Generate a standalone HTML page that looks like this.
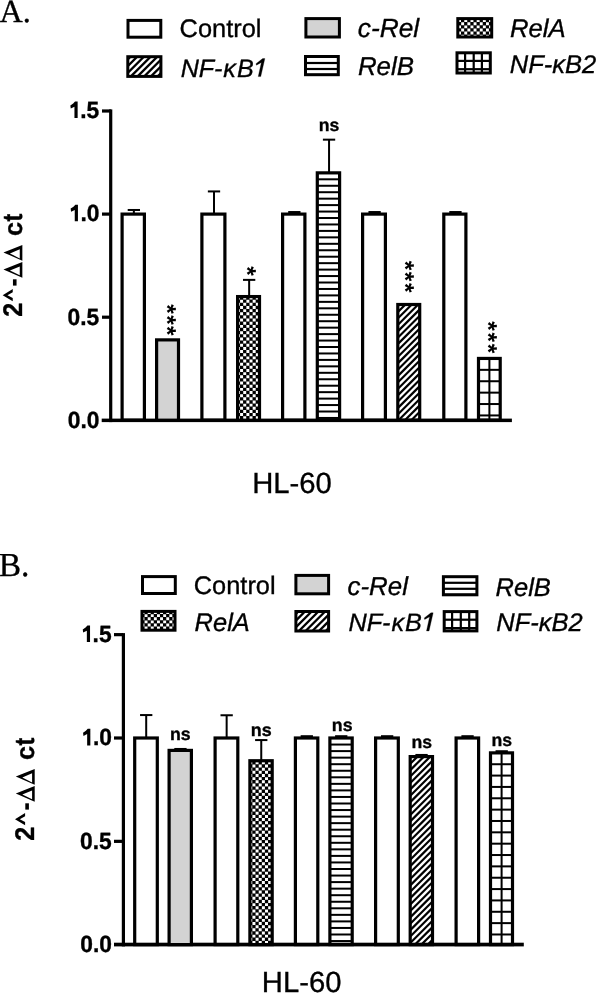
<!DOCTYPE html>
<html><head><meta charset="utf-8"><style>
html,body{margin:0;padding:0;background:#fff;width:596px;height:993px;overflow:hidden}
svg{display:block;font-kerning:normal;text-rendering:geometricPrecision;will-change:transform}
text{stroke:#000;stroke-width:0.35px;paint-order:stroke}
</style></head><body>
<svg width="596" height="993" viewBox="0 0 596 993" shape-rendering="auto">
<text transform="translate(-0.39,21.74)" style="font-family:'Liberation Serif';font-size:32.18px;font-weight:normal;font-style:normal" fill="#000">A.</text>
<rect x="128.00" y="20.40" width="32.80" height="16.80" fill="none" stroke="#000" stroke-width="3.0"/>
<text transform="translate(179.61,36.83)" style="font-family:'Liberation Sans';font-size:25.40px;font-weight:normal;font-style:normal" fill="#000">Control</text>
<clipPath id="c1"><rect x="305.90" y="18.60" width="33.50" height="18.40"/></clipPath>
<g clip-path="url(#c1)">
<rect x="305.90" y="18.60" width="33.50" height="18.40" fill="#d3d3d3"/>
</g>
<rect x="305.90" y="18.60" width="33.50" height="18.40" fill="none" stroke="#000" stroke-width="3.0"/>
<text transform="translate(357.84,37.15)" style="font-family:'Liberation Sans';font-size:26.30px;font-weight:normal;font-style:italic" fill="#000">c-Rel</text>
<clipPath id="c2"><rect x="457.80" y="18.60" width="33.90" height="18.40"/></clipPath>
<g clip-path="url(#c2)">
<rect x="457.80" y="18.60" width="33.90" height="18.40" fill="#000"/>
<path d="M454.98 16.08h2.94v2.94h-2.94zM461.18 16.08h2.94v2.94h-2.94zM467.38 16.08h2.94v2.94h-2.94zM473.58 16.08h2.94v2.94h-2.94zM479.78 16.08h2.94v2.94h-2.94zM485.98 16.08h2.94v2.94h-2.94zM458.08 19.18h2.94v2.94h-2.94zM464.28 19.18h2.94v2.94h-2.94zM470.48 19.18h2.94v2.94h-2.94zM476.68 19.18h2.94v2.94h-2.94zM482.88 19.18h2.94v2.94h-2.94zM489.08 19.18h2.94v2.94h-2.94zM454.98 22.28h2.94v2.94h-2.94zM461.18 22.28h2.94v2.94h-2.94zM467.38 22.28h2.94v2.94h-2.94zM473.58 22.28h2.94v2.94h-2.94zM479.78 22.28h2.94v2.94h-2.94zM485.98 22.28h2.94v2.94h-2.94zM458.08 25.38h2.94v2.94h-2.94zM464.28 25.38h2.94v2.94h-2.94zM470.48 25.38h2.94v2.94h-2.94zM476.68 25.38h2.94v2.94h-2.94zM482.88 25.38h2.94v2.94h-2.94zM489.08 25.38h2.94v2.94h-2.94zM454.98 28.48h2.94v2.94h-2.94zM461.18 28.48h2.94v2.94h-2.94zM467.38 28.48h2.94v2.94h-2.94zM473.58 28.48h2.94v2.94h-2.94zM479.78 28.48h2.94v2.94h-2.94zM485.98 28.48h2.94v2.94h-2.94zM458.08 31.58h2.94v2.94h-2.94zM464.28 31.58h2.94v2.94h-2.94zM470.48 31.58h2.94v2.94h-2.94zM476.68 31.58h2.94v2.94h-2.94zM482.88 31.58h2.94v2.94h-2.94zM489.08 31.58h2.94v2.94h-2.94zM454.98 34.68h2.94v2.94h-2.94zM461.18 34.68h2.94v2.94h-2.94zM467.38 34.68h2.94v2.94h-2.94zM473.58 34.68h2.94v2.94h-2.94zM479.78 34.68h2.94v2.94h-2.94zM485.98 34.68h2.94v2.94h-2.94z" fill="#fff"/>
</g>
<rect x="457.80" y="18.60" width="33.90" height="18.40" fill="none" stroke="#000" stroke-width="3.0"/>
<text transform="translate(509.91,36.93)" style="font-family:'Liberation Sans';font-size:25.68px;font-weight:normal;font-style:italic" fill="#000">RelA</text>
<clipPath id="c3"><rect x="127.80" y="56.70" width="33.10" height="19.70"/></clipPath>
<g clip-path="url(#c3)">
<line x1="104.10" y1="76.40" x2="123.80" y2="56.70" stroke="#000" stroke-width="2.3"/>
<line x1="110.80" y1="76.40" x2="130.50" y2="56.70" stroke="#000" stroke-width="2.3"/>
<line x1="117.50" y1="76.40" x2="137.20" y2="56.70" stroke="#000" stroke-width="2.3"/>
<line x1="124.20" y1="76.40" x2="143.90" y2="56.70" stroke="#000" stroke-width="2.3"/>
<line x1="130.90" y1="76.40" x2="150.60" y2="56.70" stroke="#000" stroke-width="2.3"/>
<line x1="137.60" y1="76.40" x2="157.30" y2="56.70" stroke="#000" stroke-width="2.3"/>
<line x1="144.30" y1="76.40" x2="164.00" y2="56.70" stroke="#000" stroke-width="2.3"/>
<line x1="151.00" y1="76.40" x2="170.70" y2="56.70" stroke="#000" stroke-width="2.3"/>
<line x1="157.70" y1="76.40" x2="177.40" y2="56.70" stroke="#000" stroke-width="2.3"/>
<line x1="164.40" y1="76.40" x2="184.10" y2="56.70" stroke="#000" stroke-width="2.3"/>
</g>
<rect x="127.80" y="56.70" width="33.10" height="19.70" fill="none" stroke="#000" stroke-width="3.0"/>
<path fill="#000" stroke="#000" stroke-width="0.3" d="M262.68 58.61L264.86 58.61L260.75 76.59L258.24 76.59L261.35 62.40L256.43 65.16L256.03 63.66Z"/>
<text transform="translate(180.63,76.59)" style="font-family:'Liberation Sans';font-size:25.11px;font-weight:normal;font-style:italic" fill="#000">NF-<tspan dx="0.9" style="font-family:'Liberation Sans';font-size:1.0em">κ</tspan><tspan dx="1.0">B</tspan></text>
<clipPath id="c4"><rect x="305.50" y="56.50" width="32.80" height="18.20"/></clipPath>
<g clip-path="url(#c4)">
<rect x="305.50" y="61.90" width="32.80" height="2.20" fill="#000"/>
<rect x="305.50" y="67.90" width="32.80" height="2.20" fill="#000"/>
<rect x="305.50" y="73.90" width="32.80" height="2.20" fill="#000"/>
</g>
<rect x="305.50" y="56.50" width="32.80" height="18.20" fill="none" stroke="#000" stroke-width="3.0"/>
<text transform="translate(357.90,74.80)" style="font-family:'Liberation Sans';font-size:25.87px;font-weight:normal;font-style:italic" fill="#000">RelB</text>
<clipPath id="c5"><rect x="457.00" y="52.80" width="33.30" height="20.20"/></clipPath>
<g clip-path="url(#c5)">
<rect x="457.00" y="59.80" width="33.30" height="2.20" fill="#000"/>
<rect x="457.00" y="68.10" width="33.30" height="2.20" fill="#000"/>
<rect x="457.00" y="76.40" width="33.30" height="2.20" fill="#000"/>
<rect x="464.00" y="52.80" width="2.20" height="20.20" fill="#000"/>
<rect x="472.60" y="52.80" width="2.20" height="20.20" fill="#000"/>
<rect x="480.80" y="52.80" width="2.20" height="20.20" fill="#000"/>
</g>
<rect x="457.00" y="52.80" width="33.30" height="20.20" fill="none" stroke="#000" stroke-width="3.0"/>
<text transform="translate(509.72,72.85)" style="font-family:'Liberation Sans';font-size:25.50px;font-weight:normal;font-style:italic" fill="#000">NF-κB2</text>
<rect x="109.10" y="109.40" width="3.20" height="312.70" fill="#000"/>
<rect x="101.70" y="418.60" width="410.20" height="3.50" fill="#000"/>
<rect x="102.00" y="109.40" width="9.00" height="3.20" fill="#000"/>
<rect x="102.00" y="212.50" width="9.00" height="3.20" fill="#000"/>
<rect x="102.00" y="315.60" width="9.00" height="3.20" fill="#000"/>
<text transform="translate(80.22,118.07) scale(0.97,1)" style="font-family:'Liberation Sans';font-size:23.5px;font-weight:bold">.5</text>
<path fill="#000" d="M77.64 101.48L77.64 118.07L74.45 118.07L74.45 106.67L70.76 108.58L70.35 105.38L73.18 103.48L75.02 101.48Z"/>
<text transform="translate(80.52,221.29) scale(0.97,1)" style="font-family:'Liberation Sans';font-size:23.5px;font-weight:bold">.0</text>
<path fill="#000" d="M77.94 204.70L77.94 221.29L74.75 221.29L74.75 209.89L71.06 211.80L70.65 208.60L73.48 206.70L75.32 204.70Z"/>
<text transform="translate(67.55,324.59) scale(0.97,1)" style="font-family:'Liberation Sans';font-size:23.5px;font-weight:bold">0.5</text>
<text transform="translate(67.85,427.69) scale(0.97,1)" style="font-family:'Liberation Sans';font-size:23.5px;font-weight:bold">0.0</text>
<text transform="translate(21.55,316.67) rotate(-90) scale(0.929,1)" style="font-family:'Liberation Sans';font-size:27.07px;font-weight:bold;font-style:normal" fill="#000">2</text>
<path fill="#000" d="M2.65 295.15L12.75 289.10L12.75 292.30L7.45 295.15L12.75 298.00L12.75 301.20Z"/>
<rect x="12.95" y="279.30" width="3.60" height="6.30" fill="#000"/>
<path fill-rule="evenodd" fill="#000" d="M3.45 252.40L22.35 245.00L22.35 260.70Z M9.95 253.40L19.75 249.30L19.75 258.40Z"/>
<path fill-rule="evenodd" fill="#000" d="M3.45 269.50L22.35 262.10L22.35 277.80Z M9.95 270.50L19.75 266.40L19.75 275.30Z"/>
<text transform="translate(21.60,235.88) rotate(-90) scale(0.980,1)" style="font-family:'Liberation Sans';font-size:25.74px;font-weight:bold;font-style:normal" fill="#000">c</text>
<text transform="translate(21.61,221.58) rotate(-90) scale(0.843,1)" style="font-family:'Liberation Sans';font-size:27.68px;font-weight:bold;font-style:normal" fill="#000">t</text>
<text transform="translate(252.20,492.92)" style="font-family:'Liberation Sans';font-size:29.24px;font-weight:normal;font-style:normal" fill="#000">HL-60</text>
<rect x="132.85" y="209.98" width="2.00" height="4.12" fill="#000"/>
<rect x="127.70" y="208.98" width="12.30" height="2.00" fill="#000"/>
<rect x="122.10" y="214.10" width="22.30" height="206.10" fill="none" stroke="#000" stroke-width="3.2"/>
<clipPath id="c6"><rect x="156.60" y="339.88" width="21.90" height="80.32"/></clipPath>
<g clip-path="url(#c6)">
<rect x="156.60" y="339.88" width="21.90" height="80.32" fill="#d3d3d3"/>
</g>
<rect x="156.60" y="339.88" width="21.90" height="80.32" fill="none" stroke="#000" stroke-width="3.2"/>
<rect x="213.00" y="191.42" width="2.00" height="22.68" fill="#000"/>
<rect x="207.85" y="190.42" width="12.30" height="2.00" fill="#000"/>
<rect x="201.90" y="214.10" width="23.00" height="206.10" fill="none" stroke="#000" stroke-width="3.2"/>
<rect x="248.15" y="279.88" width="2.00" height="16.70" fill="#000"/>
<rect x="243.00" y="278.88" width="12.30" height="2.00" fill="#000"/>
<clipPath id="c7"><rect x="237.60" y="296.58" width="21.90" height="123.62"/></clipPath>
<g clip-path="url(#c7)">
<rect x="237.60" y="296.58" width="21.90" height="123.62" fill="#000"/>
<path d="M233.78 293.38h2.99v2.99h-2.99zM240.08 293.38h2.99v2.99h-2.99zM246.38 293.38h2.99v2.99h-2.99zM252.68 293.38h2.99v2.99h-2.99zM258.98 293.38h2.99v2.99h-2.99zM236.93 296.53h2.99v2.99h-2.99zM243.23 296.53h2.99v2.99h-2.99zM249.53 296.53h2.99v2.99h-2.99zM255.83 296.53h2.99v2.99h-2.99zM233.78 299.68h2.99v2.99h-2.99zM240.08 299.68h2.99v2.99h-2.99zM246.38 299.68h2.99v2.99h-2.99zM252.68 299.68h2.99v2.99h-2.99zM258.98 299.68h2.99v2.99h-2.99zM236.93 302.83h2.99v2.99h-2.99zM243.23 302.83h2.99v2.99h-2.99zM249.53 302.83h2.99v2.99h-2.99zM255.83 302.83h2.99v2.99h-2.99zM233.78 305.98h2.99v2.99h-2.99zM240.08 305.98h2.99v2.99h-2.99zM246.38 305.98h2.99v2.99h-2.99zM252.68 305.98h2.99v2.99h-2.99zM258.98 305.98h2.99v2.99h-2.99zM236.93 309.13h2.99v2.99h-2.99zM243.23 309.13h2.99v2.99h-2.99zM249.53 309.13h2.99v2.99h-2.99zM255.83 309.13h2.99v2.99h-2.99zM233.78 312.28h2.99v2.99h-2.99zM240.08 312.28h2.99v2.99h-2.99zM246.38 312.28h2.99v2.99h-2.99zM252.68 312.28h2.99v2.99h-2.99zM258.98 312.28h2.99v2.99h-2.99zM236.93 315.43h2.99v2.99h-2.99zM243.23 315.43h2.99v2.99h-2.99zM249.53 315.43h2.99v2.99h-2.99zM255.83 315.43h2.99v2.99h-2.99zM233.78 318.58h2.99v2.99h-2.99zM240.08 318.58h2.99v2.99h-2.99zM246.38 318.58h2.99v2.99h-2.99zM252.68 318.58h2.99v2.99h-2.99zM258.98 318.58h2.99v2.99h-2.99zM236.93 321.73h2.99v2.99h-2.99zM243.23 321.73h2.99v2.99h-2.99zM249.53 321.73h2.99v2.99h-2.99zM255.83 321.73h2.99v2.99h-2.99zM233.78 324.88h2.99v2.99h-2.99zM240.08 324.88h2.99v2.99h-2.99zM246.38 324.88h2.99v2.99h-2.99zM252.68 324.88h2.99v2.99h-2.99zM258.98 324.88h2.99v2.99h-2.99zM236.93 328.03h2.99v2.99h-2.99zM243.23 328.03h2.99v2.99h-2.99zM249.53 328.03h2.99v2.99h-2.99zM255.83 328.03h2.99v2.99h-2.99zM233.78 331.18h2.99v2.99h-2.99zM240.08 331.18h2.99v2.99h-2.99zM246.38 331.18h2.99v2.99h-2.99zM252.68 331.18h2.99v2.99h-2.99zM258.98 331.18h2.99v2.99h-2.99zM236.93 334.33h2.99v2.99h-2.99zM243.23 334.33h2.99v2.99h-2.99zM249.53 334.33h2.99v2.99h-2.99zM255.83 334.33h2.99v2.99h-2.99zM233.78 337.48h2.99v2.99h-2.99zM240.08 337.48h2.99v2.99h-2.99zM246.38 337.48h2.99v2.99h-2.99zM252.68 337.48h2.99v2.99h-2.99zM258.98 337.48h2.99v2.99h-2.99zM236.93 340.63h2.99v2.99h-2.99zM243.23 340.63h2.99v2.99h-2.99zM249.53 340.63h2.99v2.99h-2.99zM255.83 340.63h2.99v2.99h-2.99zM233.78 343.78h2.99v2.99h-2.99zM240.08 343.78h2.99v2.99h-2.99zM246.38 343.78h2.99v2.99h-2.99zM252.68 343.78h2.99v2.99h-2.99zM258.98 343.78h2.99v2.99h-2.99zM236.93 346.93h2.99v2.99h-2.99zM243.23 346.93h2.99v2.99h-2.99zM249.53 346.93h2.99v2.99h-2.99zM255.83 346.93h2.99v2.99h-2.99zM233.78 350.08h2.99v2.99h-2.99zM240.08 350.08h2.99v2.99h-2.99zM246.38 350.08h2.99v2.99h-2.99zM252.68 350.08h2.99v2.99h-2.99zM258.98 350.08h2.99v2.99h-2.99zM236.93 353.23h2.99v2.99h-2.99zM243.23 353.23h2.99v2.99h-2.99zM249.53 353.23h2.99v2.99h-2.99zM255.83 353.23h2.99v2.99h-2.99zM233.78 356.38h2.99v2.99h-2.99zM240.08 356.38h2.99v2.99h-2.99zM246.38 356.38h2.99v2.99h-2.99zM252.68 356.38h2.99v2.99h-2.99zM258.98 356.38h2.99v2.99h-2.99zM236.93 359.53h2.99v2.99h-2.99zM243.23 359.53h2.99v2.99h-2.99zM249.53 359.53h2.99v2.99h-2.99zM255.83 359.53h2.99v2.99h-2.99zM233.78 362.68h2.99v2.99h-2.99zM240.08 362.68h2.99v2.99h-2.99zM246.38 362.68h2.99v2.99h-2.99zM252.68 362.68h2.99v2.99h-2.99zM258.98 362.68h2.99v2.99h-2.99zM236.93 365.83h2.99v2.99h-2.99zM243.23 365.83h2.99v2.99h-2.99zM249.53 365.83h2.99v2.99h-2.99zM255.83 365.83h2.99v2.99h-2.99zM233.78 368.98h2.99v2.99h-2.99zM240.08 368.98h2.99v2.99h-2.99zM246.38 368.98h2.99v2.99h-2.99zM252.68 368.98h2.99v2.99h-2.99zM258.98 368.98h2.99v2.99h-2.99zM236.93 372.13h2.99v2.99h-2.99zM243.23 372.13h2.99v2.99h-2.99zM249.53 372.13h2.99v2.99h-2.99zM255.83 372.13h2.99v2.99h-2.99zM233.78 375.28h2.99v2.99h-2.99zM240.08 375.28h2.99v2.99h-2.99zM246.38 375.28h2.99v2.99h-2.99zM252.68 375.28h2.99v2.99h-2.99zM258.98 375.28h2.99v2.99h-2.99zM236.93 378.43h2.99v2.99h-2.99zM243.23 378.43h2.99v2.99h-2.99zM249.53 378.43h2.99v2.99h-2.99zM255.83 378.43h2.99v2.99h-2.99zM233.78 381.58h2.99v2.99h-2.99zM240.08 381.58h2.99v2.99h-2.99zM246.38 381.58h2.99v2.99h-2.99zM252.68 381.58h2.99v2.99h-2.99zM258.98 381.58h2.99v2.99h-2.99zM236.93 384.73h2.99v2.99h-2.99zM243.23 384.73h2.99v2.99h-2.99zM249.53 384.73h2.99v2.99h-2.99zM255.83 384.73h2.99v2.99h-2.99zM233.78 387.88h2.99v2.99h-2.99zM240.08 387.88h2.99v2.99h-2.99zM246.38 387.88h2.99v2.99h-2.99zM252.68 387.88h2.99v2.99h-2.99zM258.98 387.88h2.99v2.99h-2.99zM236.93 391.03h2.99v2.99h-2.99zM243.23 391.03h2.99v2.99h-2.99zM249.53 391.03h2.99v2.99h-2.99zM255.83 391.03h2.99v2.99h-2.99zM233.78 394.18h2.99v2.99h-2.99zM240.08 394.18h2.99v2.99h-2.99zM246.38 394.18h2.99v2.99h-2.99zM252.68 394.18h2.99v2.99h-2.99zM258.98 394.18h2.99v2.99h-2.99zM236.93 397.33h2.99v2.99h-2.99zM243.23 397.33h2.99v2.99h-2.99zM249.53 397.33h2.99v2.99h-2.99zM255.83 397.33h2.99v2.99h-2.99zM233.78 400.48h2.99v2.99h-2.99zM240.08 400.48h2.99v2.99h-2.99zM246.38 400.48h2.99v2.99h-2.99zM252.68 400.48h2.99v2.99h-2.99zM258.98 400.48h2.99v2.99h-2.99zM236.93 403.63h2.99v2.99h-2.99zM243.23 403.63h2.99v2.99h-2.99zM249.53 403.63h2.99v2.99h-2.99zM255.83 403.63h2.99v2.99h-2.99zM233.78 406.78h2.99v2.99h-2.99zM240.08 406.78h2.99v2.99h-2.99zM246.38 406.78h2.99v2.99h-2.99zM252.68 406.78h2.99v2.99h-2.99zM258.98 406.78h2.99v2.99h-2.99zM236.93 409.93h2.99v2.99h-2.99zM243.23 409.93h2.99v2.99h-2.99zM249.53 409.93h2.99v2.99h-2.99zM255.83 409.93h2.99v2.99h-2.99zM233.78 413.08h2.99v2.99h-2.99zM240.08 413.08h2.99v2.99h-2.99zM246.38 413.08h2.99v2.99h-2.99zM252.68 413.08h2.99v2.99h-2.99zM258.98 413.08h2.99v2.99h-2.99zM236.93 416.23h2.99v2.99h-2.99zM243.23 416.23h2.99v2.99h-2.99zM249.53 416.23h2.99v2.99h-2.99zM255.83 416.23h2.99v2.99h-2.99zM233.78 419.38h2.99v2.99h-2.99zM240.08 419.38h2.99v2.99h-2.99zM246.38 419.38h2.99v2.99h-2.99zM252.68 419.38h2.99v2.99h-2.99zM258.98 419.38h2.99v2.99h-2.99z" fill="#fff"/>
</g>
<rect x="237.60" y="296.58" width="21.90" height="123.62" fill="none" stroke="#000" stroke-width="3.2"/>
<rect x="293.35" y="212.04" width="2.00" height="2.06" fill="#000"/>
<rect x="288.20" y="211.04" width="12.30" height="2.00" fill="#000"/>
<rect x="282.60" y="214.10" width="22.30" height="206.10" fill="none" stroke="#000" stroke-width="3.2"/>
<rect x="328.05" y="139.66" width="2.00" height="33.20" fill="#000"/>
<rect x="322.90" y="138.66" width="12.30" height="2.00" fill="#000"/>
<clipPath id="c8"><rect x="317.30" y="172.86" width="22.30" height="247.34"/></clipPath>
<g clip-path="url(#c8)">
<rect x="317.30" y="171.86" width="22.30" height="2.00" fill="#000"/>
<rect x="317.30" y="178.31" width="22.30" height="2.00" fill="#000"/>
<rect x="317.30" y="184.76" width="22.30" height="2.00" fill="#000"/>
<rect x="317.30" y="191.21" width="22.30" height="2.00" fill="#000"/>
<rect x="317.30" y="197.66" width="22.30" height="2.00" fill="#000"/>
<rect x="317.30" y="204.11" width="22.30" height="2.00" fill="#000"/>
<rect x="317.30" y="210.56" width="22.30" height="2.00" fill="#000"/>
<rect x="317.30" y="217.01" width="22.30" height="2.00" fill="#000"/>
<rect x="317.30" y="223.46" width="22.30" height="2.00" fill="#000"/>
<rect x="317.30" y="229.91" width="22.30" height="2.00" fill="#000"/>
<rect x="317.30" y="236.36" width="22.30" height="2.00" fill="#000"/>
<rect x="317.30" y="242.81" width="22.30" height="2.00" fill="#000"/>
<rect x="317.30" y="249.26" width="22.30" height="2.00" fill="#000"/>
<rect x="317.30" y="255.71" width="22.30" height="2.00" fill="#000"/>
<rect x="317.30" y="262.16" width="22.30" height="2.00" fill="#000"/>
<rect x="317.30" y="268.61" width="22.30" height="2.00" fill="#000"/>
<rect x="317.30" y="275.06" width="22.30" height="2.00" fill="#000"/>
<rect x="317.30" y="281.51" width="22.30" height="2.00" fill="#000"/>
<rect x="317.30" y="287.96" width="22.30" height="2.00" fill="#000"/>
<rect x="317.30" y="294.41" width="22.30" height="2.00" fill="#000"/>
<rect x="317.30" y="300.86" width="22.30" height="2.00" fill="#000"/>
<rect x="317.30" y="307.31" width="22.30" height="2.00" fill="#000"/>
<rect x="317.30" y="313.76" width="22.30" height="2.00" fill="#000"/>
<rect x="317.30" y="320.21" width="22.30" height="2.00" fill="#000"/>
<rect x="317.30" y="326.66" width="22.30" height="2.00" fill="#000"/>
<rect x="317.30" y="333.11" width="22.30" height="2.00" fill="#000"/>
<rect x="317.30" y="339.56" width="22.30" height="2.00" fill="#000"/>
<rect x="317.30" y="346.01" width="22.30" height="2.00" fill="#000"/>
<rect x="317.30" y="352.46" width="22.30" height="2.00" fill="#000"/>
<rect x="317.30" y="358.91" width="22.30" height="2.00" fill="#000"/>
<rect x="317.30" y="365.36" width="22.30" height="2.00" fill="#000"/>
<rect x="317.30" y="371.81" width="22.30" height="2.00" fill="#000"/>
<rect x="317.30" y="378.26" width="22.30" height="2.00" fill="#000"/>
<rect x="317.30" y="384.71" width="22.30" height="2.00" fill="#000"/>
<rect x="317.30" y="391.16" width="22.30" height="2.00" fill="#000"/>
<rect x="317.30" y="397.61" width="22.30" height="2.00" fill="#000"/>
<rect x="317.30" y="404.06" width="22.30" height="2.00" fill="#000"/>
<rect x="317.30" y="410.51" width="22.30" height="2.00" fill="#000"/>
<rect x="317.30" y="416.96" width="22.30" height="2.00" fill="#000"/>
<rect x="317.30" y="423.41" width="22.30" height="2.00" fill="#000"/>
</g>
<rect x="317.30" y="172.86" width="22.30" height="247.34" fill="none" stroke="#000" stroke-width="3.2"/>
<rect x="373.60" y="212.04" width="2.00" height="2.06" fill="#000"/>
<rect x="368.45" y="211.04" width="12.30" height="2.00" fill="#000"/>
<rect x="362.60" y="214.10" width="22.80" height="206.10" fill="none" stroke="#000" stroke-width="3.2"/>
<clipPath id="c9"><rect x="397.80" y="304.50" width="21.90" height="115.70"/></clipPath>
<g clip-path="url(#c9)">
<line x1="276.90" y1="420.20" x2="392.60" y2="304.50" stroke="#000" stroke-width="2.2"/>
<line x1="283.30" y1="420.20" x2="399.00" y2="304.50" stroke="#000" stroke-width="2.2"/>
<line x1="289.70" y1="420.20" x2="405.40" y2="304.50" stroke="#000" stroke-width="2.2"/>
<line x1="296.10" y1="420.20" x2="411.80" y2="304.50" stroke="#000" stroke-width="2.2"/>
<line x1="302.50" y1="420.20" x2="418.20" y2="304.50" stroke="#000" stroke-width="2.2"/>
<line x1="308.90" y1="420.20" x2="424.60" y2="304.50" stroke="#000" stroke-width="2.2"/>
<line x1="315.30" y1="420.20" x2="431.00" y2="304.50" stroke="#000" stroke-width="2.2"/>
<line x1="321.70" y1="420.20" x2="437.40" y2="304.50" stroke="#000" stroke-width="2.2"/>
<line x1="328.10" y1="420.20" x2="443.80" y2="304.50" stroke="#000" stroke-width="2.2"/>
<line x1="334.50" y1="420.20" x2="450.20" y2="304.50" stroke="#000" stroke-width="2.2"/>
<line x1="340.90" y1="420.20" x2="456.60" y2="304.50" stroke="#000" stroke-width="2.2"/>
<line x1="347.30" y1="420.20" x2="463.00" y2="304.50" stroke="#000" stroke-width="2.2"/>
<line x1="353.70" y1="420.20" x2="469.40" y2="304.50" stroke="#000" stroke-width="2.2"/>
<line x1="360.10" y1="420.20" x2="475.80" y2="304.50" stroke="#000" stroke-width="2.2"/>
<line x1="366.50" y1="420.20" x2="482.20" y2="304.50" stroke="#000" stroke-width="2.2"/>
<line x1="372.90" y1="420.20" x2="488.60" y2="304.50" stroke="#000" stroke-width="2.2"/>
<line x1="379.30" y1="420.20" x2="495.00" y2="304.50" stroke="#000" stroke-width="2.2"/>
<line x1="385.70" y1="420.20" x2="501.40" y2="304.50" stroke="#000" stroke-width="2.2"/>
<line x1="392.10" y1="420.20" x2="507.80" y2="304.50" stroke="#000" stroke-width="2.2"/>
<line x1="398.50" y1="420.20" x2="514.20" y2="304.50" stroke="#000" stroke-width="2.2"/>
<line x1="404.90" y1="420.20" x2="520.60" y2="304.50" stroke="#000" stroke-width="2.2"/>
<line x1="411.30" y1="420.20" x2="527.00" y2="304.50" stroke="#000" stroke-width="2.2"/>
<line x1="417.70" y1="420.20" x2="533.40" y2="304.50" stroke="#000" stroke-width="2.2"/>
<line x1="424.10" y1="420.20" x2="539.80" y2="304.50" stroke="#000" stroke-width="2.2"/>
</g>
<rect x="397.80" y="304.50" width="21.90" height="115.70" fill="none" stroke="#000" stroke-width="3.2"/>
<rect x="454.45" y="212.04" width="2.00" height="2.06" fill="#000"/>
<rect x="449.30" y="211.04" width="12.30" height="2.00" fill="#000"/>
<rect x="443.80" y="214.10" width="22.10" height="206.10" fill="none" stroke="#000" stroke-width="3.2"/>
<clipPath id="c10"><rect x="478.50" y="358.44" width="21.70" height="61.76"/></clipPath>
<g clip-path="url(#c10)">
<rect x="478.50" y="357.44" width="21.70" height="2.00" fill="#000"/>
<rect x="478.50" y="368.84" width="21.70" height="2.00" fill="#000"/>
<rect x="478.50" y="380.24" width="21.70" height="2.00" fill="#000"/>
<rect x="478.50" y="391.64" width="21.70" height="2.00" fill="#000"/>
<rect x="478.50" y="403.04" width="21.70" height="2.00" fill="#000"/>
<rect x="478.50" y="414.44" width="21.70" height="2.00" fill="#000"/>
<rect x="478.50" y="425.84" width="21.70" height="2.00" fill="#000"/>
<rect x="488.40" y="358.44" width="2.00" height="61.76" fill="#000"/>
</g>
<rect x="478.50" y="358.44" width="21.70" height="61.76" fill="none" stroke="#000" stroke-width="3.2"/>
<text transform="translate(318.74,131.06)" style="font-family:'Liberation Sans';font-size:17.64px;font-weight:bold;font-style:normal" fill="#000">ns</text>
<text transform="translate(159.30,304.31) rotate(90)" style="font-family:'Liberation Sans';font-size:24.50px;font-weight:bold;font-style:normal;stroke-width:0px" fill="#000">*</text>
<text transform="translate(159.30,315.16) rotate(90)" style="font-family:'Liberation Sans';font-size:24.50px;font-weight:bold;font-style:normal;stroke-width:0px" fill="#000">*</text>
<text transform="translate(159.30,326.11) rotate(90)" style="font-family:'Liberation Sans';font-size:24.50px;font-weight:bold;font-style:normal;stroke-width:0px" fill="#000">*</text>
<text transform="translate(239.30,266.21) rotate(90)" style="font-family:'Liberation Sans';font-size:24.50px;font-weight:bold;font-style:normal;stroke-width:0px" fill="#000">*</text>
<text transform="translate(396.70,260.76) rotate(90)" style="font-family:'Liberation Sans';font-size:24.50px;font-weight:bold;font-style:normal;stroke-width:0px" fill="#000">*</text>
<text transform="translate(396.70,271.71) rotate(90)" style="font-family:'Liberation Sans';font-size:24.50px;font-weight:bold;font-style:normal;stroke-width:0px" fill="#000">*</text>
<text transform="translate(396.70,282.96) rotate(90)" style="font-family:'Liberation Sans';font-size:24.50px;font-weight:bold;font-style:normal;stroke-width:0px" fill="#000">*</text>
<text transform="translate(480.10,321.31) rotate(90)" style="font-family:'Liberation Sans';font-size:24.50px;font-weight:bold;font-style:normal;stroke-width:0px" fill="#000">*</text>
<text transform="translate(480.10,332.56) rotate(90)" style="font-family:'Liberation Sans';font-size:24.50px;font-weight:bold;font-style:normal;stroke-width:0px" fill="#000">*</text>
<text transform="translate(480.10,343.71) rotate(90)" style="font-family:'Liberation Sans';font-size:24.50px;font-weight:bold;font-style:normal;stroke-width:0px" fill="#000">*</text>
<text transform="translate(-1.28,575.73)" style="font-family:'Liberation Serif';font-size:33.49px;font-weight:normal;font-style:normal" fill="#000">B.</text>
<rect x="142.50" y="576.60" width="32.80" height="16.90" fill="none" stroke="#000" stroke-width="3.0"/>
<text transform="translate(193.81,594.22)" style="font-family:'Liberation Sans';font-size:25.37px;font-weight:normal;font-style:normal" fill="#000">Control</text>
<clipPath id="c11"><rect x="295.90" y="575.40" width="32.70" height="18.40"/></clipPath>
<g clip-path="url(#c11)">
<rect x="295.90" y="575.40" width="32.70" height="18.40" fill="#d3d3d3"/>
</g>
<rect x="295.90" y="575.40" width="32.70" height="18.40" fill="none" stroke="#000" stroke-width="3.0"/>
<text transform="translate(347.55,594.55)" style="font-family:'Liberation Sans';font-size:25.87px;font-weight:normal;font-style:italic" fill="#000">c-Rel</text>
<clipPath id="c12"><rect x="443.40" y="576.70" width="33.50" height="18.10"/></clipPath>
<g clip-path="url(#c12)">
<rect x="443.40" y="581.70" width="33.50" height="2.20" fill="#000"/>
<rect x="443.40" y="587.70" width="33.50" height="2.20" fill="#000"/>
<rect x="443.40" y="593.70" width="33.50" height="2.20" fill="#000"/>
</g>
<rect x="443.40" y="576.70" width="33.50" height="18.10" fill="none" stroke="#000" stroke-width="3.0"/>
<text transform="translate(495.62,595.51)" style="font-family:'Liberation Sans';font-size:25.49px;font-weight:normal;font-style:italic" fill="#000">RelB</text>
<clipPath id="c13"><rect x="142.00" y="611.40" width="33.00" height="18.80"/></clipPath>
<g clip-path="url(#c13)">
<rect x="142.00" y="611.40" width="33.00" height="18.80" fill="#000"/>
<path d="M138.38 607.98h2.94v2.94h-2.94zM144.58 607.98h2.94v2.94h-2.94zM150.78 607.98h2.94v2.94h-2.94zM156.98 607.98h2.94v2.94h-2.94zM163.18 607.98h2.94v2.94h-2.94zM169.38 607.98h2.94v2.94h-2.94zM141.48 611.08h2.94v2.94h-2.94zM147.68 611.08h2.94v2.94h-2.94zM153.88 611.08h2.94v2.94h-2.94zM160.08 611.08h2.94v2.94h-2.94zM166.28 611.08h2.94v2.94h-2.94zM172.48 611.08h2.94v2.94h-2.94zM138.38 614.18h2.94v2.94h-2.94zM144.58 614.18h2.94v2.94h-2.94zM150.78 614.18h2.94v2.94h-2.94zM156.98 614.18h2.94v2.94h-2.94zM163.18 614.18h2.94v2.94h-2.94zM169.38 614.18h2.94v2.94h-2.94zM141.48 617.28h2.94v2.94h-2.94zM147.68 617.28h2.94v2.94h-2.94zM153.88 617.28h2.94v2.94h-2.94zM160.08 617.28h2.94v2.94h-2.94zM166.28 617.28h2.94v2.94h-2.94zM172.48 617.28h2.94v2.94h-2.94zM138.38 620.38h2.94v2.94h-2.94zM144.58 620.38h2.94v2.94h-2.94zM150.78 620.38h2.94v2.94h-2.94zM156.98 620.38h2.94v2.94h-2.94zM163.18 620.38h2.94v2.94h-2.94zM169.38 620.38h2.94v2.94h-2.94zM141.48 623.48h2.94v2.94h-2.94zM147.68 623.48h2.94v2.94h-2.94zM153.88 623.48h2.94v2.94h-2.94zM160.08 623.48h2.94v2.94h-2.94zM166.28 623.48h2.94v2.94h-2.94zM172.48 623.48h2.94v2.94h-2.94zM138.38 626.58h2.94v2.94h-2.94zM144.58 626.58h2.94v2.94h-2.94zM150.78 626.58h2.94v2.94h-2.94zM156.98 626.58h2.94v2.94h-2.94zM163.18 626.58h2.94v2.94h-2.94zM169.38 626.58h2.94v2.94h-2.94zM141.48 629.68h2.94v2.94h-2.94zM147.68 629.68h2.94v2.94h-2.94zM153.88 629.68h2.94v2.94h-2.94zM160.08 629.68h2.94v2.94h-2.94zM166.28 629.68h2.94v2.94h-2.94zM172.48 629.68h2.94v2.94h-2.94z" fill="#fff"/>
</g>
<rect x="142.00" y="611.40" width="33.00" height="18.80" fill="none" stroke="#000" stroke-width="3.0"/>
<text transform="translate(194.62,630.69)" style="font-family:'Liberation Sans';font-size:25.44px;font-weight:normal;font-style:italic" fill="#000">RelA</text>
<clipPath id="c14"><rect x="295.90" y="611.50" width="32.70" height="19.50"/></clipPath>
<g clip-path="url(#c14)">
<line x1="272.10" y1="631.00" x2="291.60" y2="611.50" stroke="#000" stroke-width="2.3"/>
<line x1="278.80" y1="631.00" x2="298.30" y2="611.50" stroke="#000" stroke-width="2.3"/>
<line x1="285.50" y1="631.00" x2="305.00" y2="611.50" stroke="#000" stroke-width="2.3"/>
<line x1="292.20" y1="631.00" x2="311.70" y2="611.50" stroke="#000" stroke-width="2.3"/>
<line x1="298.90" y1="631.00" x2="318.40" y2="611.50" stroke="#000" stroke-width="2.3"/>
<line x1="305.60" y1="631.00" x2="325.10" y2="611.50" stroke="#000" stroke-width="2.3"/>
<line x1="312.30" y1="631.00" x2="331.80" y2="611.50" stroke="#000" stroke-width="2.3"/>
<line x1="319.00" y1="631.00" x2="338.50" y2="611.50" stroke="#000" stroke-width="2.3"/>
<line x1="325.70" y1="631.00" x2="345.20" y2="611.50" stroke="#000" stroke-width="2.3"/>
<line x1="332.40" y1="631.00" x2="351.90" y2="611.50" stroke="#000" stroke-width="2.3"/>
</g>
<rect x="295.90" y="611.50" width="32.70" height="19.50" fill="none" stroke="#000" stroke-width="3.0"/>
<path fill="#000" stroke="#000" stroke-width="0.3" d="M430.97 612.85L433.17 612.85L429.03 630.94L426.50 630.94L429.63 616.67L424.68 619.45L424.28 617.93Z"/>
<text transform="translate(348.42,630.94)" style="font-family:'Liberation Sans';font-size:25.26px;font-weight:normal;font-style:italic" fill="#000">NF-<tspan dx="0.9" style="font-family:'Liberation Sans';font-size:1.0em">κ</tspan><tspan dx="1.0">B</tspan></text>
<clipPath id="c15"><rect x="444.20" y="611.60" width="32.70" height="19.30"/></clipPath>
<g clip-path="url(#c15)">
<rect x="444.20" y="618.60" width="32.70" height="2.20" fill="#000"/>
<rect x="444.20" y="627.00" width="32.70" height="2.20" fill="#000"/>
<rect x="444.20" y="635.40" width="32.70" height="2.20" fill="#000"/>
<rect x="451.00" y="611.60" width="2.20" height="19.30" fill="#000"/>
<rect x="459.70" y="611.60" width="2.20" height="19.30" fill="#000"/>
<rect x="468.10" y="611.60" width="2.20" height="19.30" fill="#000"/>
</g>
<rect x="444.20" y="611.60" width="32.70" height="19.30" fill="none" stroke="#000" stroke-width="3.0"/>
<text transform="translate(496.22,631.16)" style="font-family:'Liberation Sans';font-size:25.51px;font-weight:normal;font-style:italic" fill="#000">NF-κB2</text>
<rect x="121.80" y="633.10" width="3.20" height="313.30" fill="#000"/>
<rect x="114.00" y="942.70" width="409.80" height="3.70" fill="#000"/>
<rect x="114.00" y="633.05" width="9.00" height="3.20" fill="#000"/>
<rect x="114.00" y="736.40" width="9.00" height="3.20" fill="#000"/>
<rect x="114.00" y="839.75" width="9.00" height="3.20" fill="#000"/>
<text transform="translate(92.62,642.07) scale(0.97,1)" style="font-family:'Liberation Sans';font-size:23.5px;font-weight:bold">.5</text>
<path fill="#000" d="M90.04 625.48L90.04 642.07L86.85 642.07L86.85 630.67L83.16 632.58L82.75 629.38L85.58 627.48L87.42 625.48Z"/>
<text transform="translate(92.92,745.39) scale(0.97,1)" style="font-family:'Liberation Sans';font-size:23.5px;font-weight:bold">.0</text>
<path fill="#000" d="M90.34 728.80L90.34 745.39L87.15 745.39L87.15 733.99L83.46 735.90L83.05 732.70L85.88 730.80L87.72 728.80Z"/>
<text transform="translate(79.95,848.59) scale(0.97,1)" style="font-family:'Liberation Sans';font-size:23.5px;font-weight:bold">0.5</text>
<text transform="translate(80.25,951.89) scale(0.97,1)" style="font-family:'Liberation Sans';font-size:23.5px;font-weight:bold">0.0</text>
<text transform="translate(33.90,840.67) rotate(-90) scale(0.929,1)" style="font-family:'Liberation Sans';font-size:27.07px;font-weight:bold;font-style:normal" fill="#000">2</text>
<path fill="#000" d="M15.00 819.15L25.10 813.10L25.10 816.30L19.80 819.15L25.10 822.00L25.10 825.20Z"/>
<rect x="25.30" y="803.30" width="3.60" height="6.30" fill="#000"/>
<path fill-rule="evenodd" fill="#000" d="M15.80 776.40L34.70 769.00L34.70 784.70Z M22.30 777.40L32.10 773.30L32.10 782.40Z"/>
<path fill-rule="evenodd" fill="#000" d="M15.80 793.50L34.70 786.10L34.70 801.80Z M22.30 794.50L32.10 790.40L32.10 799.30Z"/>
<text transform="translate(33.95,759.88) rotate(-90) scale(0.980,1)" style="font-family:'Liberation Sans';font-size:25.74px;font-weight:bold;font-style:normal" fill="#000">c</text>
<text transform="translate(33.96,745.58) rotate(-90) scale(0.843,1)" style="font-family:'Liberation Sans';font-size:27.68px;font-weight:bold;font-style:normal" fill="#000">t</text>
<text transform="translate(261.80,991.52)" style="font-family:'Liberation Sans';font-size:29.24px;font-weight:normal;font-style:normal" fill="#000">HL-60</text>
<rect x="145.20" y="715.06" width="2.00" height="22.94" fill="#000"/>
<rect x="140.05" y="714.06" width="12.30" height="2.00" fill="#000"/>
<rect x="134.70" y="738.00" width="22.60" height="206.60" fill="none" stroke="#000" stroke-width="3.2"/>
<rect x="179.45" y="748.96" width="2.00" height="1.45" fill="#000"/>
<rect x="174.30" y="747.96" width="12.30" height="2.00" fill="#000"/>
<clipPath id="c16"><rect x="169.10" y="750.40" width="22.30" height="194.20"/></clipPath>
<g clip-path="url(#c16)">
<rect x="169.10" y="750.40" width="22.30" height="194.20" fill="#d3d3d3"/>
</g>
<rect x="169.10" y="750.40" width="22.30" height="194.20" fill="none" stroke="#000" stroke-width="3.2"/>
<rect x="225.65" y="715.26" width="2.00" height="22.74" fill="#000"/>
<rect x="220.50" y="714.26" width="12.30" height="2.00" fill="#000"/>
<rect x="215.10" y="738.00" width="22.70" height="206.60" fill="none" stroke="#000" stroke-width="3.2"/>
<rect x="260.25" y="740.07" width="2.00" height="20.67" fill="#000"/>
<rect x="255.10" y="739.07" width="12.30" height="2.00" fill="#000"/>
<clipPath id="c17"><rect x="249.90" y="760.74" width="22.30" height="183.86"/></clipPath>
<g clip-path="url(#c17)">
<rect x="249.90" y="760.74" width="22.30" height="183.86" fill="#000"/>
<path d="M242.98 755.08h2.99v2.99h-2.99zM249.28 755.08h2.99v2.99h-2.99zM255.58 755.08h2.99v2.99h-2.99zM261.88 755.08h2.99v2.99h-2.99zM268.18 755.08h2.99v2.99h-2.99zM246.13 758.23h2.99v2.99h-2.99zM252.43 758.23h2.99v2.99h-2.99zM258.73 758.23h2.99v2.99h-2.99zM265.03 758.23h2.99v2.99h-2.99zM271.33 758.23h2.99v2.99h-2.99zM242.98 761.38h2.99v2.99h-2.99zM249.28 761.38h2.99v2.99h-2.99zM255.58 761.38h2.99v2.99h-2.99zM261.88 761.38h2.99v2.99h-2.99zM268.18 761.38h2.99v2.99h-2.99zM246.13 764.53h2.99v2.99h-2.99zM252.43 764.53h2.99v2.99h-2.99zM258.73 764.53h2.99v2.99h-2.99zM265.03 764.53h2.99v2.99h-2.99zM271.33 764.53h2.99v2.99h-2.99zM242.98 767.68h2.99v2.99h-2.99zM249.28 767.68h2.99v2.99h-2.99zM255.58 767.68h2.99v2.99h-2.99zM261.88 767.68h2.99v2.99h-2.99zM268.18 767.68h2.99v2.99h-2.99zM246.13 770.83h2.99v2.99h-2.99zM252.43 770.83h2.99v2.99h-2.99zM258.73 770.83h2.99v2.99h-2.99zM265.03 770.83h2.99v2.99h-2.99zM271.33 770.83h2.99v2.99h-2.99zM242.98 773.98h2.99v2.99h-2.99zM249.28 773.98h2.99v2.99h-2.99zM255.58 773.98h2.99v2.99h-2.99zM261.88 773.98h2.99v2.99h-2.99zM268.18 773.98h2.99v2.99h-2.99zM246.13 777.13h2.99v2.99h-2.99zM252.43 777.13h2.99v2.99h-2.99zM258.73 777.13h2.99v2.99h-2.99zM265.03 777.13h2.99v2.99h-2.99zM271.33 777.13h2.99v2.99h-2.99zM242.98 780.28h2.99v2.99h-2.99zM249.28 780.28h2.99v2.99h-2.99zM255.58 780.28h2.99v2.99h-2.99zM261.88 780.28h2.99v2.99h-2.99zM268.18 780.28h2.99v2.99h-2.99zM246.13 783.43h2.99v2.99h-2.99zM252.43 783.43h2.99v2.99h-2.99zM258.73 783.43h2.99v2.99h-2.99zM265.03 783.43h2.99v2.99h-2.99zM271.33 783.43h2.99v2.99h-2.99zM242.98 786.58h2.99v2.99h-2.99zM249.28 786.58h2.99v2.99h-2.99zM255.58 786.58h2.99v2.99h-2.99zM261.88 786.58h2.99v2.99h-2.99zM268.18 786.58h2.99v2.99h-2.99zM246.13 789.73h2.99v2.99h-2.99zM252.43 789.73h2.99v2.99h-2.99zM258.73 789.73h2.99v2.99h-2.99zM265.03 789.73h2.99v2.99h-2.99zM271.33 789.73h2.99v2.99h-2.99zM242.98 792.88h2.99v2.99h-2.99zM249.28 792.88h2.99v2.99h-2.99zM255.58 792.88h2.99v2.99h-2.99zM261.88 792.88h2.99v2.99h-2.99zM268.18 792.88h2.99v2.99h-2.99zM246.13 796.03h2.99v2.99h-2.99zM252.43 796.03h2.99v2.99h-2.99zM258.73 796.03h2.99v2.99h-2.99zM265.03 796.03h2.99v2.99h-2.99zM271.33 796.03h2.99v2.99h-2.99zM242.98 799.18h2.99v2.99h-2.99zM249.28 799.18h2.99v2.99h-2.99zM255.58 799.18h2.99v2.99h-2.99zM261.88 799.18h2.99v2.99h-2.99zM268.18 799.18h2.99v2.99h-2.99zM246.13 802.33h2.99v2.99h-2.99zM252.43 802.33h2.99v2.99h-2.99zM258.73 802.33h2.99v2.99h-2.99zM265.03 802.33h2.99v2.99h-2.99zM271.33 802.33h2.99v2.99h-2.99zM242.98 805.48h2.99v2.99h-2.99zM249.28 805.48h2.99v2.99h-2.99zM255.58 805.48h2.99v2.99h-2.99zM261.88 805.48h2.99v2.99h-2.99zM268.18 805.48h2.99v2.99h-2.99zM246.13 808.63h2.99v2.99h-2.99zM252.43 808.63h2.99v2.99h-2.99zM258.73 808.63h2.99v2.99h-2.99zM265.03 808.63h2.99v2.99h-2.99zM271.33 808.63h2.99v2.99h-2.99zM242.98 811.78h2.99v2.99h-2.99zM249.28 811.78h2.99v2.99h-2.99zM255.58 811.78h2.99v2.99h-2.99zM261.88 811.78h2.99v2.99h-2.99zM268.18 811.78h2.99v2.99h-2.99zM246.13 814.93h2.99v2.99h-2.99zM252.43 814.93h2.99v2.99h-2.99zM258.73 814.93h2.99v2.99h-2.99zM265.03 814.93h2.99v2.99h-2.99zM271.33 814.93h2.99v2.99h-2.99zM242.98 818.08h2.99v2.99h-2.99zM249.28 818.08h2.99v2.99h-2.99zM255.58 818.08h2.99v2.99h-2.99zM261.88 818.08h2.99v2.99h-2.99zM268.18 818.08h2.99v2.99h-2.99zM246.13 821.23h2.99v2.99h-2.99zM252.43 821.23h2.99v2.99h-2.99zM258.73 821.23h2.99v2.99h-2.99zM265.03 821.23h2.99v2.99h-2.99zM271.33 821.23h2.99v2.99h-2.99zM242.98 824.38h2.99v2.99h-2.99zM249.28 824.38h2.99v2.99h-2.99zM255.58 824.38h2.99v2.99h-2.99zM261.88 824.38h2.99v2.99h-2.99zM268.18 824.38h2.99v2.99h-2.99zM246.13 827.53h2.99v2.99h-2.99zM252.43 827.53h2.99v2.99h-2.99zM258.73 827.53h2.99v2.99h-2.99zM265.03 827.53h2.99v2.99h-2.99zM271.33 827.53h2.99v2.99h-2.99zM242.98 830.68h2.99v2.99h-2.99zM249.28 830.68h2.99v2.99h-2.99zM255.58 830.68h2.99v2.99h-2.99zM261.88 830.68h2.99v2.99h-2.99zM268.18 830.68h2.99v2.99h-2.99zM246.13 833.83h2.99v2.99h-2.99zM252.43 833.83h2.99v2.99h-2.99zM258.73 833.83h2.99v2.99h-2.99zM265.03 833.83h2.99v2.99h-2.99zM271.33 833.83h2.99v2.99h-2.99zM242.98 836.98h2.99v2.99h-2.99zM249.28 836.98h2.99v2.99h-2.99zM255.58 836.98h2.99v2.99h-2.99zM261.88 836.98h2.99v2.99h-2.99zM268.18 836.98h2.99v2.99h-2.99zM246.13 840.13h2.99v2.99h-2.99zM252.43 840.13h2.99v2.99h-2.99zM258.73 840.13h2.99v2.99h-2.99zM265.03 840.13h2.99v2.99h-2.99zM271.33 840.13h2.99v2.99h-2.99zM242.98 843.28h2.99v2.99h-2.99zM249.28 843.28h2.99v2.99h-2.99zM255.58 843.28h2.99v2.99h-2.99zM261.88 843.28h2.99v2.99h-2.99zM268.18 843.28h2.99v2.99h-2.99zM246.13 846.43h2.99v2.99h-2.99zM252.43 846.43h2.99v2.99h-2.99zM258.73 846.43h2.99v2.99h-2.99zM265.03 846.43h2.99v2.99h-2.99zM271.33 846.43h2.99v2.99h-2.99zM242.98 849.58h2.99v2.99h-2.99zM249.28 849.58h2.99v2.99h-2.99zM255.58 849.58h2.99v2.99h-2.99zM261.88 849.58h2.99v2.99h-2.99zM268.18 849.58h2.99v2.99h-2.99zM246.13 852.73h2.99v2.99h-2.99zM252.43 852.73h2.99v2.99h-2.99zM258.73 852.73h2.99v2.99h-2.99zM265.03 852.73h2.99v2.99h-2.99zM271.33 852.73h2.99v2.99h-2.99zM242.98 855.88h2.99v2.99h-2.99zM249.28 855.88h2.99v2.99h-2.99zM255.58 855.88h2.99v2.99h-2.99zM261.88 855.88h2.99v2.99h-2.99zM268.18 855.88h2.99v2.99h-2.99zM246.13 859.03h2.99v2.99h-2.99zM252.43 859.03h2.99v2.99h-2.99zM258.73 859.03h2.99v2.99h-2.99zM265.03 859.03h2.99v2.99h-2.99zM271.33 859.03h2.99v2.99h-2.99zM242.98 862.18h2.99v2.99h-2.99zM249.28 862.18h2.99v2.99h-2.99zM255.58 862.18h2.99v2.99h-2.99zM261.88 862.18h2.99v2.99h-2.99zM268.18 862.18h2.99v2.99h-2.99zM246.13 865.33h2.99v2.99h-2.99zM252.43 865.33h2.99v2.99h-2.99zM258.73 865.33h2.99v2.99h-2.99zM265.03 865.33h2.99v2.99h-2.99zM271.33 865.33h2.99v2.99h-2.99zM242.98 868.48h2.99v2.99h-2.99zM249.28 868.48h2.99v2.99h-2.99zM255.58 868.48h2.99v2.99h-2.99zM261.88 868.48h2.99v2.99h-2.99zM268.18 868.48h2.99v2.99h-2.99zM246.13 871.63h2.99v2.99h-2.99zM252.43 871.63h2.99v2.99h-2.99zM258.73 871.63h2.99v2.99h-2.99zM265.03 871.63h2.99v2.99h-2.99zM271.33 871.63h2.99v2.99h-2.99zM242.98 874.78h2.99v2.99h-2.99zM249.28 874.78h2.99v2.99h-2.99zM255.58 874.78h2.99v2.99h-2.99zM261.88 874.78h2.99v2.99h-2.99zM268.18 874.78h2.99v2.99h-2.99zM246.13 877.93h2.99v2.99h-2.99zM252.43 877.93h2.99v2.99h-2.99zM258.73 877.93h2.99v2.99h-2.99zM265.03 877.93h2.99v2.99h-2.99zM271.33 877.93h2.99v2.99h-2.99zM242.98 881.08h2.99v2.99h-2.99zM249.28 881.08h2.99v2.99h-2.99zM255.58 881.08h2.99v2.99h-2.99zM261.88 881.08h2.99v2.99h-2.99zM268.18 881.08h2.99v2.99h-2.99zM246.13 884.23h2.99v2.99h-2.99zM252.43 884.23h2.99v2.99h-2.99zM258.73 884.23h2.99v2.99h-2.99zM265.03 884.23h2.99v2.99h-2.99zM271.33 884.23h2.99v2.99h-2.99zM242.98 887.38h2.99v2.99h-2.99zM249.28 887.38h2.99v2.99h-2.99zM255.58 887.38h2.99v2.99h-2.99zM261.88 887.38h2.99v2.99h-2.99zM268.18 887.38h2.99v2.99h-2.99zM246.13 890.53h2.99v2.99h-2.99zM252.43 890.53h2.99v2.99h-2.99zM258.73 890.53h2.99v2.99h-2.99zM265.03 890.53h2.99v2.99h-2.99zM271.33 890.53h2.99v2.99h-2.99zM242.98 893.68h2.99v2.99h-2.99zM249.28 893.68h2.99v2.99h-2.99zM255.58 893.68h2.99v2.99h-2.99zM261.88 893.68h2.99v2.99h-2.99zM268.18 893.68h2.99v2.99h-2.99zM246.13 896.83h2.99v2.99h-2.99zM252.43 896.83h2.99v2.99h-2.99zM258.73 896.83h2.99v2.99h-2.99zM265.03 896.83h2.99v2.99h-2.99zM271.33 896.83h2.99v2.99h-2.99zM242.98 899.98h2.99v2.99h-2.99zM249.28 899.98h2.99v2.99h-2.99zM255.58 899.98h2.99v2.99h-2.99zM261.88 899.98h2.99v2.99h-2.99zM268.18 899.98h2.99v2.99h-2.99zM246.13 903.13h2.99v2.99h-2.99zM252.43 903.13h2.99v2.99h-2.99zM258.73 903.13h2.99v2.99h-2.99zM265.03 903.13h2.99v2.99h-2.99zM271.33 903.13h2.99v2.99h-2.99zM242.98 906.28h2.99v2.99h-2.99zM249.28 906.28h2.99v2.99h-2.99zM255.58 906.28h2.99v2.99h-2.99zM261.88 906.28h2.99v2.99h-2.99zM268.18 906.28h2.99v2.99h-2.99zM246.13 909.43h2.99v2.99h-2.99zM252.43 909.43h2.99v2.99h-2.99zM258.73 909.43h2.99v2.99h-2.99zM265.03 909.43h2.99v2.99h-2.99zM271.33 909.43h2.99v2.99h-2.99zM242.98 912.58h2.99v2.99h-2.99zM249.28 912.58h2.99v2.99h-2.99zM255.58 912.58h2.99v2.99h-2.99zM261.88 912.58h2.99v2.99h-2.99zM268.18 912.58h2.99v2.99h-2.99zM246.13 915.73h2.99v2.99h-2.99zM252.43 915.73h2.99v2.99h-2.99zM258.73 915.73h2.99v2.99h-2.99zM265.03 915.73h2.99v2.99h-2.99zM271.33 915.73h2.99v2.99h-2.99zM242.98 918.88h2.99v2.99h-2.99zM249.28 918.88h2.99v2.99h-2.99zM255.58 918.88h2.99v2.99h-2.99zM261.88 918.88h2.99v2.99h-2.99zM268.18 918.88h2.99v2.99h-2.99zM246.13 922.03h2.99v2.99h-2.99zM252.43 922.03h2.99v2.99h-2.99zM258.73 922.03h2.99v2.99h-2.99zM265.03 922.03h2.99v2.99h-2.99zM271.33 922.03h2.99v2.99h-2.99zM242.98 925.18h2.99v2.99h-2.99zM249.28 925.18h2.99v2.99h-2.99zM255.58 925.18h2.99v2.99h-2.99zM261.88 925.18h2.99v2.99h-2.99zM268.18 925.18h2.99v2.99h-2.99zM246.13 928.33h2.99v2.99h-2.99zM252.43 928.33h2.99v2.99h-2.99zM258.73 928.33h2.99v2.99h-2.99zM265.03 928.33h2.99v2.99h-2.99zM271.33 928.33h2.99v2.99h-2.99zM242.98 931.48h2.99v2.99h-2.99zM249.28 931.48h2.99v2.99h-2.99zM255.58 931.48h2.99v2.99h-2.99zM261.88 931.48h2.99v2.99h-2.99zM268.18 931.48h2.99v2.99h-2.99zM246.13 934.63h2.99v2.99h-2.99zM252.43 934.63h2.99v2.99h-2.99zM258.73 934.63h2.99v2.99h-2.99zM265.03 934.63h2.99v2.99h-2.99zM271.33 934.63h2.99v2.99h-2.99zM242.98 937.78h2.99v2.99h-2.99zM249.28 937.78h2.99v2.99h-2.99zM255.58 937.78h2.99v2.99h-2.99zM261.88 937.78h2.99v2.99h-2.99zM268.18 937.78h2.99v2.99h-2.99zM246.13 940.93h2.99v2.99h-2.99zM252.43 940.93h2.99v2.99h-2.99zM258.73 940.93h2.99v2.99h-2.99zM265.03 940.93h2.99v2.99h-2.99zM271.33 940.93h2.99v2.99h-2.99zM242.98 944.08h2.99v2.99h-2.99zM249.28 944.08h2.99v2.99h-2.99zM255.58 944.08h2.99v2.99h-2.99zM261.88 944.08h2.99v2.99h-2.99zM268.18 944.08h2.99v2.99h-2.99z" fill="#fff"/>
</g>
<rect x="249.90" y="760.74" width="22.30" height="183.86" fill="none" stroke="#000" stroke-width="3.2"/>
<rect x="305.80" y="736.20" width="2.00" height="1.80" fill="#000"/>
<rect x="300.65" y="735.20" width="12.30" height="2.00" fill="#000"/>
<rect x="295.40" y="738.00" width="22.40" height="206.60" fill="none" stroke="#000" stroke-width="3.2"/>
<rect x="340.25" y="736.20" width="2.00" height="1.80" fill="#000"/>
<rect x="335.10" y="735.20" width="12.30" height="2.00" fill="#000"/>
<clipPath id="c18"><rect x="329.90" y="738.00" width="22.30" height="206.60"/></clipPath>
<g clip-path="url(#c18)">
<rect x="329.90" y="737.00" width="22.30" height="2.00" fill="#000"/>
<rect x="329.90" y="743.55" width="22.30" height="2.00" fill="#000"/>
<rect x="329.90" y="750.10" width="22.30" height="2.00" fill="#000"/>
<rect x="329.90" y="756.65" width="22.30" height="2.00" fill="#000"/>
<rect x="329.90" y="763.20" width="22.30" height="2.00" fill="#000"/>
<rect x="329.90" y="769.75" width="22.30" height="2.00" fill="#000"/>
<rect x="329.90" y="776.30" width="22.30" height="2.00" fill="#000"/>
<rect x="329.90" y="782.85" width="22.30" height="2.00" fill="#000"/>
<rect x="329.90" y="789.40" width="22.30" height="2.00" fill="#000"/>
<rect x="329.90" y="795.95" width="22.30" height="2.00" fill="#000"/>
<rect x="329.90" y="802.50" width="22.30" height="2.00" fill="#000"/>
<rect x="329.90" y="809.05" width="22.30" height="2.00" fill="#000"/>
<rect x="329.90" y="815.60" width="22.30" height="2.00" fill="#000"/>
<rect x="329.90" y="822.15" width="22.30" height="2.00" fill="#000"/>
<rect x="329.90" y="828.70" width="22.30" height="2.00" fill="#000"/>
<rect x="329.90" y="835.25" width="22.30" height="2.00" fill="#000"/>
<rect x="329.90" y="841.80" width="22.30" height="2.00" fill="#000"/>
<rect x="329.90" y="848.35" width="22.30" height="2.00" fill="#000"/>
<rect x="329.90" y="854.90" width="22.30" height="2.00" fill="#000"/>
<rect x="329.90" y="861.45" width="22.30" height="2.00" fill="#000"/>
<rect x="329.90" y="868.00" width="22.30" height="2.00" fill="#000"/>
<rect x="329.90" y="874.55" width="22.30" height="2.00" fill="#000"/>
<rect x="329.90" y="881.10" width="22.30" height="2.00" fill="#000"/>
<rect x="329.90" y="887.65" width="22.30" height="2.00" fill="#000"/>
<rect x="329.90" y="894.20" width="22.30" height="2.00" fill="#000"/>
<rect x="329.90" y="900.75" width="22.30" height="2.00" fill="#000"/>
<rect x="329.90" y="907.30" width="22.30" height="2.00" fill="#000"/>
<rect x="329.90" y="913.85" width="22.30" height="2.00" fill="#000"/>
<rect x="329.90" y="920.40" width="22.30" height="2.00" fill="#000"/>
<rect x="329.90" y="926.95" width="22.30" height="2.00" fill="#000"/>
<rect x="329.90" y="933.50" width="22.30" height="2.00" fill="#000"/>
<rect x="329.90" y="940.05" width="22.30" height="2.00" fill="#000"/>
<rect x="329.90" y="946.60" width="22.30" height="2.00" fill="#000"/>
</g>
<rect x="329.90" y="738.00" width="22.30" height="206.60" fill="none" stroke="#000" stroke-width="3.2"/>
<rect x="386.15" y="736.20" width="2.00" height="1.80" fill="#000"/>
<rect x="381.00" y="735.20" width="12.30" height="2.00" fill="#000"/>
<rect x="375.60" y="738.00" width="22.70" height="206.60" fill="none" stroke="#000" stroke-width="3.2"/>
<rect x="420.55" y="754.95" width="2.00" height="1.65" fill="#000"/>
<rect x="415.40" y="753.95" width="12.30" height="2.00" fill="#000"/>
<clipPath id="c19"><rect x="410.20" y="756.60" width="22.30" height="188.00"/></clipPath>
<g clip-path="url(#c19)">
<line x1="216.60" y1="944.60" x2="404.60" y2="756.60" stroke="#000" stroke-width="2.2"/>
<line x1="223.00" y1="944.60" x2="411.00" y2="756.60" stroke="#000" stroke-width="2.2"/>
<line x1="229.40" y1="944.60" x2="417.40" y2="756.60" stroke="#000" stroke-width="2.2"/>
<line x1="235.80" y1="944.60" x2="423.80" y2="756.60" stroke="#000" stroke-width="2.2"/>
<line x1="242.20" y1="944.60" x2="430.20" y2="756.60" stroke="#000" stroke-width="2.2"/>
<line x1="248.60" y1="944.60" x2="436.60" y2="756.60" stroke="#000" stroke-width="2.2"/>
<line x1="255.00" y1="944.60" x2="443.00" y2="756.60" stroke="#000" stroke-width="2.2"/>
<line x1="261.40" y1="944.60" x2="449.40" y2="756.60" stroke="#000" stroke-width="2.2"/>
<line x1="267.80" y1="944.60" x2="455.80" y2="756.60" stroke="#000" stroke-width="2.2"/>
<line x1="274.20" y1="944.60" x2="462.20" y2="756.60" stroke="#000" stroke-width="2.2"/>
<line x1="280.60" y1="944.60" x2="468.60" y2="756.60" stroke="#000" stroke-width="2.2"/>
<line x1="287.00" y1="944.60" x2="475.00" y2="756.60" stroke="#000" stroke-width="2.2"/>
<line x1="293.40" y1="944.60" x2="481.40" y2="756.60" stroke="#000" stroke-width="2.2"/>
<line x1="299.80" y1="944.60" x2="487.80" y2="756.60" stroke="#000" stroke-width="2.2"/>
<line x1="306.20" y1="944.60" x2="494.20" y2="756.60" stroke="#000" stroke-width="2.2"/>
<line x1="312.60" y1="944.60" x2="500.60" y2="756.60" stroke="#000" stroke-width="2.2"/>
<line x1="319.00" y1="944.60" x2="507.00" y2="756.60" stroke="#000" stroke-width="2.2"/>
<line x1="325.40" y1="944.60" x2="513.40" y2="756.60" stroke="#000" stroke-width="2.2"/>
<line x1="331.80" y1="944.60" x2="519.80" y2="756.60" stroke="#000" stroke-width="2.2"/>
<line x1="338.20" y1="944.60" x2="526.20" y2="756.60" stroke="#000" stroke-width="2.2"/>
<line x1="344.60" y1="944.60" x2="532.60" y2="756.60" stroke="#000" stroke-width="2.2"/>
<line x1="351.00" y1="944.60" x2="539.00" y2="756.60" stroke="#000" stroke-width="2.2"/>
<line x1="357.40" y1="944.60" x2="545.40" y2="756.60" stroke="#000" stroke-width="2.2"/>
<line x1="363.80" y1="944.60" x2="551.80" y2="756.60" stroke="#000" stroke-width="2.2"/>
<line x1="370.20" y1="944.60" x2="558.20" y2="756.60" stroke="#000" stroke-width="2.2"/>
<line x1="376.60" y1="944.60" x2="564.60" y2="756.60" stroke="#000" stroke-width="2.2"/>
<line x1="383.00" y1="944.60" x2="571.00" y2="756.60" stroke="#000" stroke-width="2.2"/>
<line x1="389.40" y1="944.60" x2="577.40" y2="756.60" stroke="#000" stroke-width="2.2"/>
<line x1="395.80" y1="944.60" x2="583.80" y2="756.60" stroke="#000" stroke-width="2.2"/>
<line x1="402.20" y1="944.60" x2="590.20" y2="756.60" stroke="#000" stroke-width="2.2"/>
<line x1="408.60" y1="944.60" x2="596.60" y2="756.60" stroke="#000" stroke-width="2.2"/>
<line x1="415.00" y1="944.60" x2="603.00" y2="756.60" stroke="#000" stroke-width="2.2"/>
<line x1="421.40" y1="944.60" x2="609.40" y2="756.60" stroke="#000" stroke-width="2.2"/>
<line x1="427.80" y1="944.60" x2="615.80" y2="756.60" stroke="#000" stroke-width="2.2"/>
<line x1="434.20" y1="944.60" x2="622.20" y2="756.60" stroke="#000" stroke-width="2.2"/>
</g>
<rect x="410.20" y="756.60" width="22.30" height="188.00" fill="none" stroke="#000" stroke-width="3.2"/>
<rect x="466.55" y="736.20" width="2.00" height="1.80" fill="#000"/>
<rect x="461.40" y="735.20" width="12.30" height="2.00" fill="#000"/>
<rect x="456.10" y="738.00" width="22.50" height="206.60" fill="none" stroke="#000" stroke-width="3.2"/>
<rect x="500.70" y="751.23" width="2.00" height="1.65" fill="#000"/>
<rect x="495.55" y="750.23" width="12.30" height="2.00" fill="#000"/>
<clipPath id="c20"><rect x="490.50" y="752.88" width="22.00" height="191.72"/></clipPath>
<g clip-path="url(#c20)">
<rect x="490.50" y="751.88" width="22.00" height="2.00" fill="#000"/>
<rect x="490.50" y="763.23" width="22.00" height="2.00" fill="#000"/>
<rect x="490.50" y="774.58" width="22.00" height="2.00" fill="#000"/>
<rect x="490.50" y="785.93" width="22.00" height="2.00" fill="#000"/>
<rect x="490.50" y="797.28" width="22.00" height="2.00" fill="#000"/>
<rect x="490.50" y="808.63" width="22.00" height="2.00" fill="#000"/>
<rect x="490.50" y="819.98" width="22.00" height="2.00" fill="#000"/>
<rect x="490.50" y="831.33" width="22.00" height="2.00" fill="#000"/>
<rect x="490.50" y="842.68" width="22.00" height="2.00" fill="#000"/>
<rect x="490.50" y="854.03" width="22.00" height="2.00" fill="#000"/>
<rect x="490.50" y="865.38" width="22.00" height="2.00" fill="#000"/>
<rect x="490.50" y="876.73" width="22.00" height="2.00" fill="#000"/>
<rect x="490.50" y="888.08" width="22.00" height="2.00" fill="#000"/>
<rect x="490.50" y="899.43" width="22.00" height="2.00" fill="#000"/>
<rect x="490.50" y="910.78" width="22.00" height="2.00" fill="#000"/>
<rect x="490.50" y="922.13" width="22.00" height="2.00" fill="#000"/>
<rect x="490.50" y="933.48" width="22.00" height="2.00" fill="#000"/>
<rect x="490.50" y="944.83" width="22.00" height="2.00" fill="#000"/>
<rect x="500.60" y="752.88" width="2.00" height="191.72" fill="#000"/>
</g>
<rect x="490.50" y="752.88" width="22.00" height="191.72" fill="none" stroke="#000" stroke-width="3.2"/>
<text transform="translate(169.93,739.79)" style="font-family:'Liberation Sans';font-size:17.73px;font-weight:bold;font-style:normal" fill="#000">ns</text>
<text transform="translate(250.82,736.24)" style="font-family:'Liberation Sans';font-size:17.92px;font-weight:bold;font-style:normal" fill="#000">ns</text>
<text transform="translate(331.83,730.89)" style="font-family:'Liberation Sans';font-size:17.73px;font-weight:bold;font-style:normal" fill="#000">ns</text>
<text transform="translate(411.54,748.26)" style="font-family:'Liberation Sans';font-size:17.64px;font-weight:bold;font-style:normal" fill="#000">ns</text>
<text transform="translate(491.54,746.26)" style="font-family:'Liberation Sans';font-size:17.64px;font-weight:bold;font-style:normal" fill="#000">ns</text>
</svg>
</body></html>
